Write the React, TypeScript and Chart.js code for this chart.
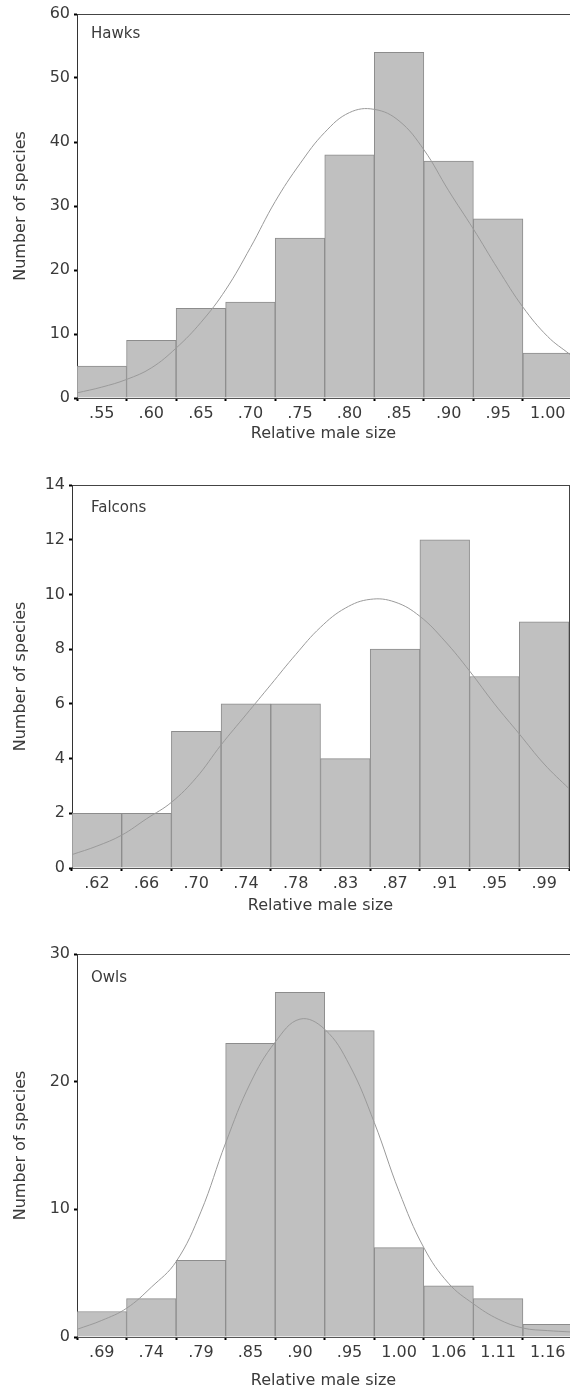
import React, { useEffect, useRef } from "react";
import { Chart, registerables } from "chart.js";

Chart.register(...registerables);

// ---------- Data ----------
// x positions of the curve readings, in bin units (0 = first bin centre)
const curveXFull = [-0.5, 0, 0.5, 1, 1.5, 2, 2.5, 3, 3.5, 4, 4.5, 5, 5.5, 6, 6.5, 7, 7.5, 8, 8.5, 9, 9.45];
const curveXFalcon = [-0.5, 0, 0.5, 1, 1.5, 2, 2.5, 3, 3.5, 4, 4.5, 5, 5.5, 6, 6.5, 7, 7.5, 8, 8.5, 9, 9.5];

const hawkLabels = [".55", ".60", ".65", ".70", ".75", ".80", ".85", ".90", ".95", "1.00"];
const hawkCounts = [5, 9, 14, 15, 25, 38, 54, 37, 28, 7];
const hawkCurveY = [0.8, 1.7, 2.9, 4.7, 7.8, 11.8, 16.9, 23.5, 30.7, 36.6, 41.5, 44.6, 45.1, 43.3, 38.8, 32.4, 26.4, 20.1, 14.2, 9.6, 6.8];

const falconLabels = [".62", ".66", ".70", ".74", ".78", ".83", ".87", ".91", ".95", ".99"];
const falconCounts = [2, 2, 5, 6, 6, 4, 8, 12, 7, 9];
const falconCurveY = [0.49, 0.8, 1.2, 1.8, 2.4, 3.3, 4.5, 5.6, 6.7, 7.8, 8.8, 9.5, 9.82, 9.72, 9.2, 8.3, 7.2, 6.0, 4.9, 3.8, 2.9];

const owlLabels = [".69", ".74", ".79", ".85", ".90", ".95", "1.00", "1.06", "1.11", "1.16"];
const owlCounts = [2, 3, 6, 23, 27, 24, 7, 4, 3, 1];
const owlCurveY = [0.6, 1.3, 2.25, 3.9, 5.9, 9.8, 15.2, 19.9, 23.1, 24.9, 24.1, 21.3, 16.8, 11.4, 7.0, 4.2, 2.6, 1.4, 0.7, 0.5, 0.4];

const xTitle = "Relative male size";
const yTitle = "Number of species";

// ---------- Styling ----------
const FONT = "'DejaVu Sans', sans-serif";
const TEXT = "#3a3a3a";
const BAR_FILL = "#c0c0c0";
const BAR_EDGE = "#8c8c8c";
const CURVE = "#9a9a9a";

const panelLabelPlugin = {
  id: "panelLabel",
  afterDatasetsDraw(chart: any, _args: any, opts: any) {
    if (!opts || !opts.text) return;
    const { ctx, chartArea } = chart;
    ctx.save();
    ctx.font = `${opts.size}px ${FONT}`;
    ctx.fillStyle = TEXT;
    ctx.textBaseline = "alphabetic";
    ctx.textAlign = "left";
    ctx.fillText(opts.text, chartArea.left + opts.dx, chartArea.top + opts.dy);
    ctx.restore();
  },
};

type PanelCfg = {
  name: string;
  labels: string[];
  counts: number[];
  curveX: number[];
  curveY: number[];
  yMax: number;
  yStep: number;
  xMax: number;
  height: number;
  top: number;
  padTop: number;
  padRight: number;
  yWidth: number;
  xHeight: number;
  xTitlePad: number;
  rightBorder: boolean;
  labelDx: number;
  labelDy: number;
};

const panels: PanelCfg[] = [
  {
    name: "Hawks", labels: hawkLabels, counts: hawkCounts, curveX: curveXFull, curveY: hawkCurveY,
    yMax: 60, yStep: 10, xMax: 9.45, height: 462, top: 0, padTop: 14, padRight: 0,
    yWidth: 77, xHeight: 64, xTitlePad: 19, rightBorder: false, labelDx: 14, labelDy: 24,
  },
  {
    name: "Falcons", labels: falconLabels, counts: falconCounts, curveX: curveXFalcon, curveY: falconCurveY,
    yMax: 14, yStep: 2, xMax: 9.5, height: 465, top: 465, padTop: 20, padRight: 1,
    yWidth: 72, xHeight: 62, xTitlePad: 15, rightBorder: true, labelDx: 19, labelDy: 27,
  },
  {
    name: "Owls", labels: owlLabels, counts: owlCounts, curveX: curveXFull, curveY: owlCurveY,
    yMax: 30, yStep: 10, xMax: 9.45, height: 464, top: 930, padTop: 24, padRight: 0,
    yWidth: 77, xHeight: 57, xTitlePad: 4, rightBorder: false, labelDx: 14, labelDy: 28,
  },
];

function Panel({ cfg }: { cfg: PanelCfg }) {
  const ref = useRef<HTMLCanvasElement | null>(null);

  useEffect(() => {
    if (!ref.current) return;
    const tickFont = { family: FONT, size: 16 };
    const titleFont = { family: FONT, size: 16 };
    const scales: any = {
      x: {
        type: "linear",
        min: -0.5,
        max: cfg.xMax,
        offset: false,
        afterBuildTicks: (axis: any) => {
          axis.ticks = cfg.labels.map((_, i) => ({ value: i }));
        },
        afterFit: (axis: any) => {
          axis.height = cfg.xHeight;
        },
        ticks: {
          autoSkip: false,
          maxRotation: 0,
          minRotation: 0,
          padding: 3,
          color: TEXT,
          font: tickFont,
          callback: (v: any) => cfg.labels[v as number] ?? "",
        },
        grid: {
          display: true,
          drawOnChartArea: false,
          drawTicks: true,
          tickLength: 3,
          tickWidth: 2,
          tickColor: "#000",
        },
        border: { display: true, color: "#555", width: 1 },
        title: {
          display: true,
          text: xTitle,
          color: TEXT,
          font: titleFont,
          padding: { top: 0, bottom: cfg.xTitlePad },
        },
      },
      x2: {
        type: "linear",
        position: "top",
        min: -0.5,
        max: cfg.xMax,
        ticks: { display: false },
        grid: { display: false, drawTicks: false },
        border: { display: true, color: "#444", width: 1 },
        afterFit: (axis: any) => {
          axis.height = 0;
        },
      },
      y: {
        type: "linear",
        min: 0,
        max: cfg.yMax,
        afterFit: (axis: any) => {
          axis.width = cfg.yWidth;
        },
        ticks: {
          stepSize: cfg.yStep,
          padding: 4,
          color: TEXT,
          font: tickFont,
        },
        grid: {
          display: true,
          drawOnChartArea: false,
          drawTicks: true,
          tickLength: 3,
          tickWidth: 2,
          tickColor: "#000",
        },
        border: { display: true, color: "#333", width: 1 },
        title: {
          display: true,
          text: yTitle,
          color: TEXT,
          font: titleFont,
          padding: { top: 11.4, bottom: 0 },
        },
      },
    };
    if (cfg.rightBorder) {
      scales.y2 = {
        type: "linear",
        position: "right",
        min: 0,
        max: cfg.yMax,
        ticks: { display: false },
        grid: { display: false, drawTicks: false },
        border: { display: true, color: "#444", width: 1 },
        afterFit: (axis: any) => {
          axis.width = 0;
        },
      };
    }

    const chart = new Chart(ref.current, {
      type: "bar",
      data: {
        datasets: [
          {
            type: "line",
            label: "Normal curve",
            data: cfg.curveX.map((x, i) => ({ x, y: cfg.curveY[i] })),
            borderColor: CURVE,
            borderWidth: 1,
            pointRadius: 0,
            tension: 0.4,
            fill: false,
            order: 0,
            xAxisID: "x",
            yAxisID: "y",
          } as any,
          {
            type: "bar",
            label: cfg.name,
            data: cfg.counts.map((c, i) => ({ x: i, y: c })),
            backgroundColor: BAR_FILL,
            borderColor: BAR_EDGE,
            borderWidth: 1,
            barPercentage: 1,
            categoryPercentage: 1,
            order: 1,
            xAxisID: "x",
            yAxisID: "y",
          } as any,
        ],
      },
      options: {
        responsive: false,
        animation: false,
        devicePixelRatio: 1,
        layout: { padding: { top: cfg.padTop, right: cfg.padRight, left: 0, bottom: 0 } },
        plugins: {
          legend: { display: false },
          tooltip: { enabled: false },
          panelLabel: { text: cfg.name, dx: cfg.labelDx, dy: cfg.labelDy, size: 15 },
        } as any,
        scales,
      },
      plugins: [panelLabelPlugin],
    });
    return () => chart.destroy();
  }, [cfg]);

  return (
    <div style={{ position: "absolute", left: 0, top: cfg.top, width: 570, height: cfg.height }}>
      <canvas ref={ref} width={570} height={cfg.height} style={{ display: "block", width: 570, height: cfg.height }} />
    </div>
  );
}

export default function App() {
  return (
    <div style={{ position: "absolute", left: 0, top: 0, width: 570, height: 1394, background: "#fff" }}>
      {panels.map((p) => (
        <Panel key={p.name} cfg={p} />
      ))}
    </div>
  );
}
